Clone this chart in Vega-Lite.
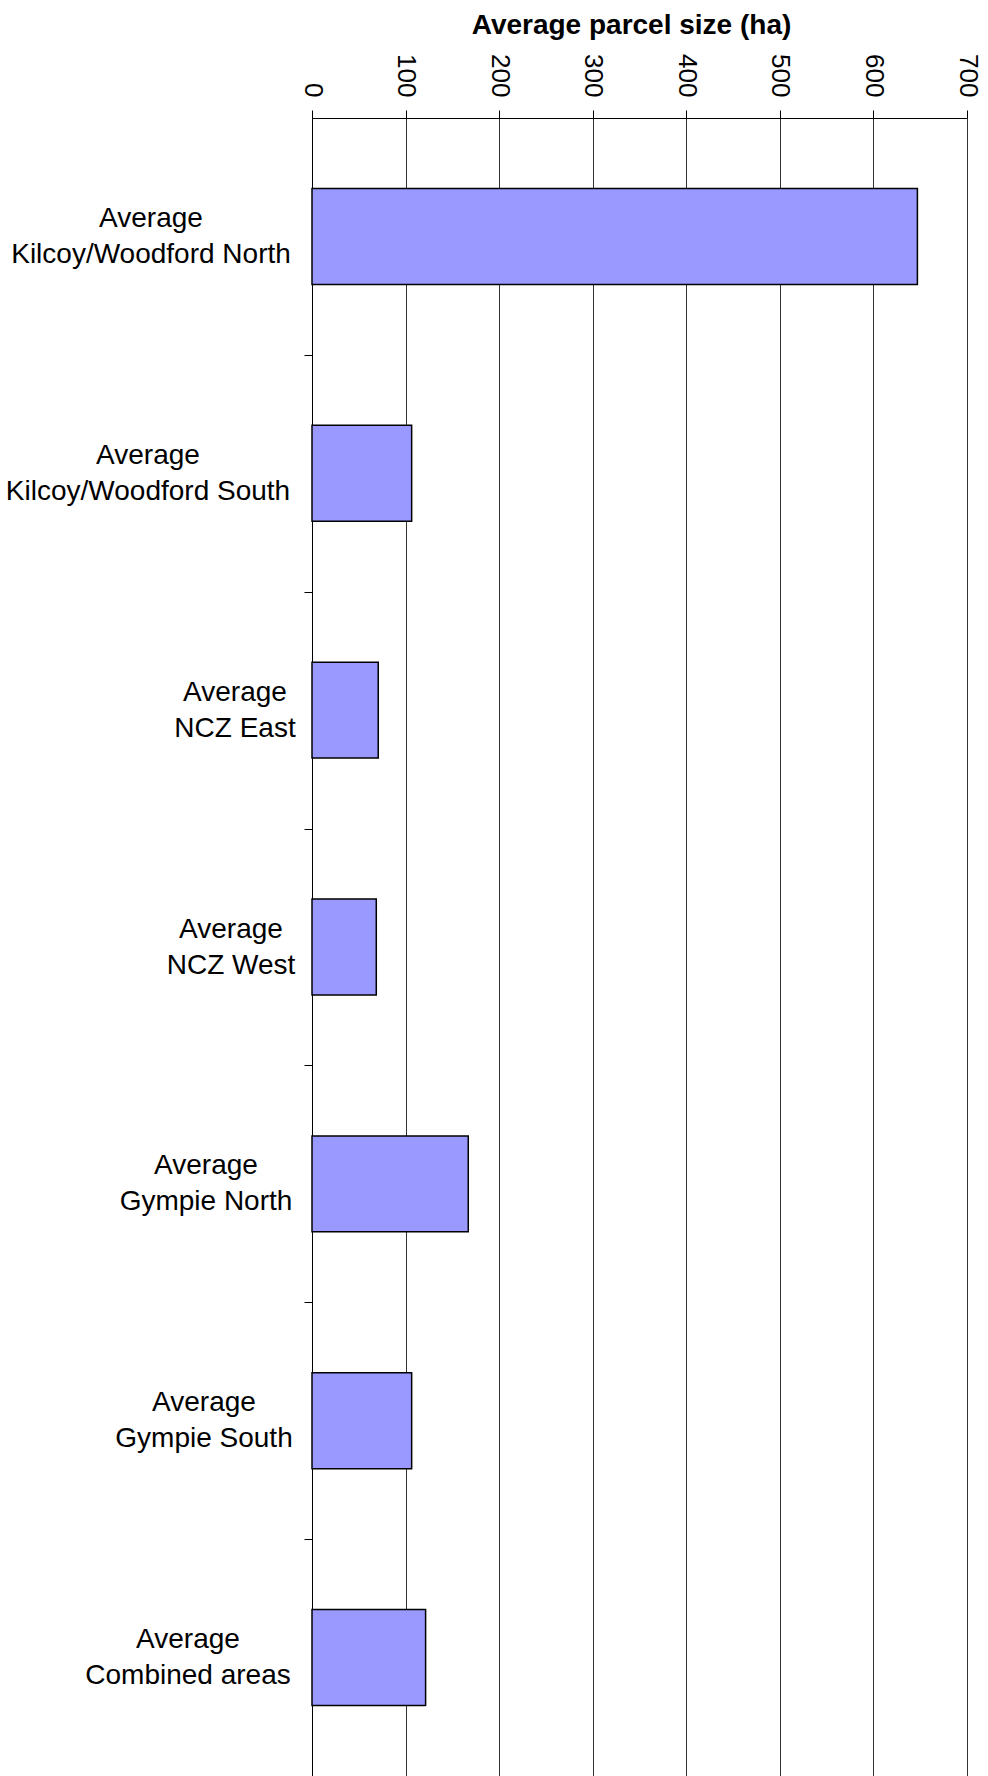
{
  "$schema": "https://vega.github.io/schema/vega-lite/v6.json",
  "autosize": "none",
  "padding": {"left": 312, "top": 118, "right": 21, "bottom": 0},
  "width": 655,
  "height": 1658,
  "background": "white",
  "data": {
    "values": [
      {"area": "Kilcoy/Woodford North", "size": 647},
      {"area": "Kilcoy/Woodford South", "size": 106.5},
      {"area": "NCZ East", "size": 70.8},
      {"area": "NCZ West", "size": 68.7},
      {"area": "Gympie North", "size": 167},
      {"area": "Gympie South", "size": 106.5},
      {"area": "Combined areas", "size": 121.4}
    ]
  },
  "mark": {"type": "bar", "fill": "#9999FF", "stroke": "#000000", "strokeWidth": 1.5},
  "encoding": {
    "y": {
      "field": "area",
      "type": "nominal",
      "sort": null,
      "scale": {"paddingInner": 0.595, "paddingOuter": 0.2975},
      "axis": {
        "title": null,
        "orient": "left",
        "tickSize": 8,
        "tickOffset": 118.43,
        "tickColor": "#000000",
        "domainColor": "#000000",
        "labelFont": "Liberation Sans",
        "labelFontSize": 28,
        "labelColor": "#000000",
        "labelLineHeight": 36,
        "labelAlign": "center",
        "labelBaseline": "middle",
        "labelOffset": -136.43,
        "labelLimit": 500,
        "labelExpr": "['Average', datum.label]",
        "labelPadding": {
          "condition": [
            {"test": "datum.value == 'Kilcoy/Woodford North'", "value": 153.5},
            {"test": "datum.value == 'Kilcoy/Woodford South'", "value": 156.5},
            {"test": "datum.value == 'NCZ East'", "value": 69.5},
            {"test": "datum.value == 'NCZ West'", "value": 73.5},
            {"test": "datum.value == 'Gympie North'", "value": 98.5},
            {"test": "datum.value == 'Gympie South'", "value": 100.5}
          ],
          "value": 116.5
        },
        "grid": false
      }
    },
    "x": {
      "field": "size",
      "type": "quantitative",
      "scale": {"domain": [0, 700], "nice": false},
      "axis": {
        "orient": "top",
        "title": "Average parcel size (ha)",
        "titleFont": "Liberation Sans",
        "titleFontSize": 28,
        "titleFontWeight": "bold",
        "titleColor": "#000000",
        "titlePadding": 14,
        "titleX": 319,
        "values": [0, 100, 200, 300, 400, 500, 600, 700],
        "labelAngle": 90,
        "labelAlign": "right",
        "labelBaseline": "middle",
        "labelFont": "Liberation Sans",
        "labelFontSize": 26,
        "labelColor": "#000000",
        "labelPadding": 13,
        "labelFlush": false,
        "labelOverlap": false,
        "tickSize": 8,
        "tickColor": "#000000",
        "domainColor": "#000000",
        "grid": true,
        "gridColor": "#333333",
        "gridOpacity": 1
      }
    }
  },
  "config": {"view": {"stroke": null}}
}
